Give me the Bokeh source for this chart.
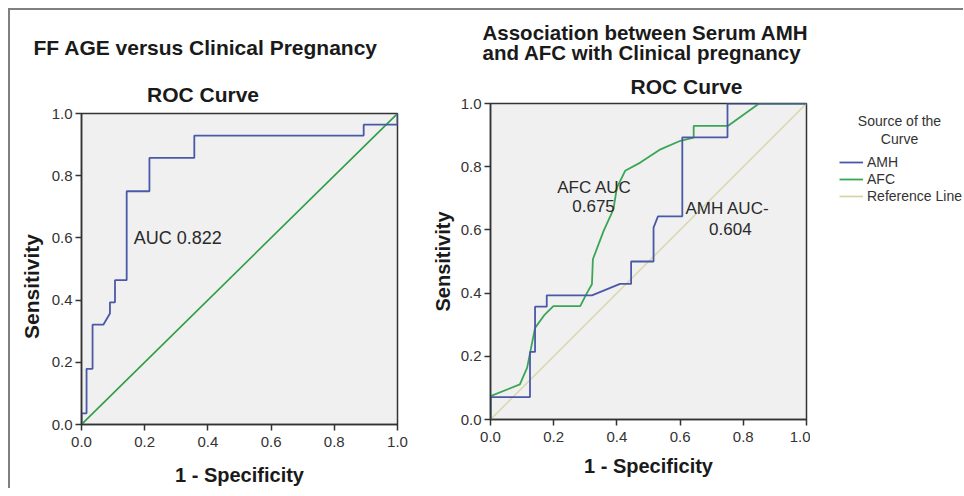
from bokeh.plotting import figure
from bokeh.models import Range1d, Label, Legend, LegendItem, FixedTicker, Title, Spacer
from bokeh.layouts import row, column
from bokeh.embed import file_html
from bokeh.resources import INLINE

# ---------------- data ----------------
ticks = [0.0, 0.2, 0.4, 0.6, 0.8, 1.0]
tick_labels = {0.0: "0.0", 0.2: "0.2", 0.4: "0.4", 0.6: "0.6", 0.8: "0.8", 1.0: "1.0"}

# Left chart: FF AGE ROC
age_fpr = [0, 0, 0.016, 0.016, 0.035, 0.035, 0.069, 0.09, 0.09, 0.106, 0.106,
           0.143, 0.143, 0.215, 0.215, 0.357, 0.357, 0.893, 0.893, 1.0, 1.0]
age_tpr = [0, 0.036, 0.036, 0.179, 0.179, 0.321, 0.321, 0.357, 0.393, 0.393, 0.464,
           0.464, 0.75, 0.75, 0.857, 0.857, 0.929, 0.929, 0.964, 0.964, 1.0]

# Right chart: AMH and AFC ROC
amh_fpr = [0, 0, 0.125, 0.125, 0.141, 0.141, 0.178, 0.178, 0.321, 0.41, 0.445,
           0.445, 0.516, 0.516, 0.53, 0.607, 0.607, 0.75, 0.75, 1.0]
amh_tpr = [0, 0.071, 0.071, 0.214, 0.214, 0.357, 0.357, 0.393, 0.393, 0.429, 0.429,
           0.5, 0.5, 0.607, 0.643, 0.643, 0.893, 0.893, 1.0, 1.0]

afc_fpr = [0, 0, 0.093, 0.116, 0.141, 0.17, 0.199, 0.284, 0.305, 0.321, 0.324,
           0.358, 0.389, 0.4, 0.426, 0.474, 0.538, 0.601, 0.643, 0.643, 0.751, 0.85, 1.0]
afc_tpr = [0, 0.074, 0.111, 0.164, 0.29, 0.33, 0.359, 0.359, 0.40, 0.428, 0.507,
           0.597, 0.665, 0.734, 0.787, 0.813, 0.855, 0.882, 0.892, 0.929, 0.929, 1.0, 1.0]

ref_x = [0, 1]
ref_y = [0, 1]

legend_labels = ["AMH", "AFC", "Reference Line"]

FONT = "Liberation Sans"
BLUE = "#4a58a8"
GREEN = "#3aa655"
BEIGE = "#d8d6a8"
FRAME_GRAY = "#7f7f7f"
NAN = float("nan")


def base_fig(width, height, ml, mr, mt, mb):
    p = figure(width=width, height=height, output_backend="svg", toolbar_location=None,
               x_range=Range1d(0, 1), y_range=Range1d(0, 1),
               min_border_left=ml, min_border_right=mr, min_border_top=mt, min_border_bottom=mb)
    p.background_fill_color = "#f0f0f0"
    p.border_fill_color = "white"
    p.outline_line_color = "#333333"
    p.outline_line_width = 1.5
    p.grid.visible = False
    for ax in (p.xaxis[0], p.yaxis[0]):
        ax.ticker = FixedTicker(ticks=ticks)
        ax.major_label_overrides = tick_labels
        ax.major_label_text_font = FONT
        ax.major_label_text_font_size = "15px"
        ax.major_label_text_color = "#333333"
        ax.axis_line_color = "#333333"
        ax.axis_line_width = 1.5
        ax.major_tick_line_color = "#333333"
        ax.major_tick_line_width = 1.5
        ax.major_tick_out = 6
        ax.major_tick_in = 0
        ax.minor_tick_line_color = None
        ax.axis_label_text_font = FONT
        ax.axis_label_text_font_style = "bold"
        ax.axis_label_text_color = "#1a1a1a"
    p.xaxis.major_label_standoff = 6
    p.yaxis.major_label_standoff = 3
    p.xaxis.axis_label = "1 - Specificity"
    p.xaxis.axis_label_text_font_size = "20px"
    p.yaxis.axis_label = "Sensitivity"
    p.title.text_font = FONT
    p.title.text_font_size = "21px"
    p.title.text_font_style = "bold"
    p.title.text_color = "#1a1a1a"
    p.title.align = "left"
    return p


def add_text(p, x, y, text, size, align="center", color="#2a2a2a"):
    p.add_layout(Label(x=x, y=y, text=text, text_font=FONT, text_font_size=size,
                       text_align=align, text_baseline="middle", text_color=color))


# ---------------- left chart ----------------
p1 = base_fig(410, 478, 71, 23, 103, 61)
p1.xaxis.axis_label_standoff = 14
p1.yaxis.axis_label_standoff = 6
p1.yaxis.axis_label_text_font_size = "21px"
# non-breaking spaces after the word move the centred label slightly down, as in the original
p1.yaxis.axis_label = "Sensitivity" + "\u00a0" * 6
p1.title.text = "FF AGE versus Clinical Pregnancy"
p1.title.offset = -48
p1.title.standoff = 28.4
p1.add_layout(Title(text="ROC Curve", align="left", offset=65.5, standoff=14.6,
                    text_font=FONT, text_font_size="21px", text_font_style="bold",
                    text_color="#1a1a1a"), "above")
p1.line(ref_x, ref_y, line_color="#2e9e45", line_width=1.6)
p1.line(age_fpr, age_tpr, line_color=BLUE, line_width=1.8)
add_text(p1, 0.165, 0.60, "AUC 0.822", "18px", align="left")

# ---------------- right chart ----------------
p2 = base_fig(390, 478, 70, 4, 93, 69)
p2.xaxis.axis_label_standoff = 10
p2.yaxis.axis_label_standoff = 4
p2.yaxis.axis_label_text_font_size = "20px"
p2.title.text = "Association between Serum AMH\nand AFC with Clinical pregnancy"
p2.title.text_font_size = "20.5px"
p2.title.offset = -8
p2.title.standoff = 6.4
p2.title.text_line_height = 0.87
p2.add_layout(Title(text="ROC Curve", align="left", offset=140, standoff=10.6,
                    text_font=FONT, text_font_size="21px", text_font_style="bold",
                    text_color="#1a1a1a"), "above")
p2.line(ref_x, ref_y, line_color=BEIGE, line_width=1.4)
p2.line(afc_fpr, afc_tpr, line_color=GREEN, line_width=1.8)
p2.line(amh_fpr, amh_tpr, line_color=BLUE, line_width=1.8)
add_text(p2, 0.329, 0.734, "AFC AUC", "17px")
add_text(p2, 0.326, 0.677, "0.675", "17px")
add_text(p2, 0.617, 0.668, "AMH AUC-", "17px", align="left")
add_text(p2, 0.759, 0.604, "0.604", "17px")

# ---------------- legend panel (right of second chart) ----------------
p3 = figure(width=153, height=478, output_backend="svg", toolbar_location=None,
            min_border=0, x_axis_type=None, y_axis_type=None,
            x_range=Range1d(0, 153), y_range=Range1d(478, 0))
p3.background_fill_color = "white"
p3.border_fill_color = "white"
p3.outline_line_color = None
p3.grid.visible = False
lr_amh = p3.line([NAN], [NAN], line_color=BLUE, line_width=1.8)
lr_afc = p3.line([NAN], [NAN], line_color=GREEN, line_width=1.8)
lr_ref = p3.line([NAN], [NAN], line_color=BEIGE, line_width=1.8)
add_text(p3, 89, 110, "Source of the", "14px", color="#333333")
add_text(p3, 89, 128, "Curve", "14px", color="#333333")
legend = Legend(items=[LegendItem(label=legend_labels[0], renderers=[lr_amh]),
                       LegendItem(label=legend_labels[1], renderers=[lr_afc]),
                       LegendItem(label=legend_labels[2], renderers=[lr_ref])],
                location=(29, 284))
legend.background_fill_alpha = 0
legend.border_line_alpha = 0
legend.padding = 0
legend.margin = 0
legend.spacing = 1
legend.label_height = 14
legend.glyph_height = 14
legend.glyph_width = 24
legend.label_standoff = 4
legend.label_text_font = FONT
legend.label_text_font_size = "14px"
legend.label_text_color = "#333333"
p3.add_layout(legend)

border_top = Spacer(width=955, height=2, styles={"background-color": FRAME_GRAY})
border_left = Spacer(width=2, height=478, styles={"background-color": FRAME_GRAY})
body = row(border_left, column(p1), column(p2), column(p3))
layout = column(Spacer(width=8, height=8),
                row(Spacer(width=8, height=8), column(border_top, body)))

with open("out.html", "w") as f:
    f.write(file_html(layout, INLINE))
